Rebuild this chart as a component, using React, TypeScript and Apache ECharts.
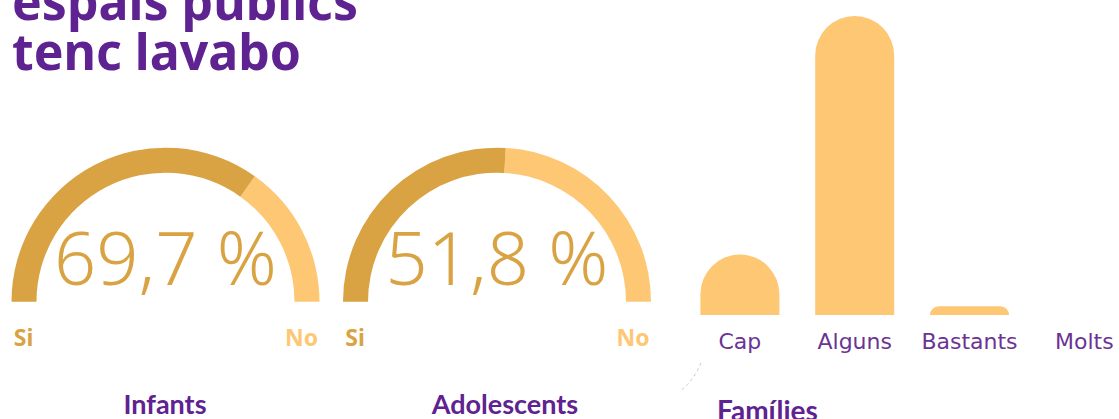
import React, { useEffect, useRef } from "react";
import * as echarts from "echarts";

const titleLines = ["espais públics", "tenc lavabo"];
const gaugeGroups = ["Infants", "Adolescents"];
const gaugeYes = [69.7, 51.8];
const gaugeYesLabel = "Si";
const gaugeNoLabel = "No";
const barGroup = "Famílies";
const barCategories = ["Cap", "Alguns", "Bastants", "Molts"];
const barValues = [16.4, 81.2, 2.4, 0];

const DARK = "#D9A343";
const LIGHT = "#FDC774";
const PURPLE = "#5E2390";
const LABEL_PURPLE = "#6A3494";
const SANS = '"Noto Sans", "DejaVu Sans", sans-serif';
const WIDE = '"DejaVu Sans", "Noto Sans", sans-serif';
const COND = 'Lato, "Noto Sans", sans-serif';

const gaugeCenters = [
  [165.5, 301.7],
  [497, 301.7],
];

export default function App() {
  const ref = useRef<HTMLDivElement>(null);
  useEffect(() => {
    if (!ref.current) return;
    const chart = echarts.init(ref.current, undefined, { renderer: "svg" });

    const gaugeSeries = gaugeYes.map((v, i) => ({
      type: "gauge",
      startAngle: 180,
      endAngle: 0,
      min: 0,
      max: 100,
      center: gaugeCenters[i],
      radius: 154,
      pointer: { show: false },
      progress: { show: false },
      axisTick: { show: false },
      splitLine: { show: false },
      axisLabel: { show: false },
      title: { show: false },
      axisLine: {
        lineStyle: {
          width: 25,
          color: [
            [v / 100, DARK],
            [1, LIGHT],
          ],
        },
      },
      detail: {
        offsetCenter: [0, -45],
        fontSize: 74,
        fontWeight: 300,
        fontFamily: SANS,
        color: DARK,
        formatter: (val: number) => val.toFixed(1).replace(".", ",") + " %",
      },
      data: [{ value: v, name: gaugeGroups[i] }],
    }));

    const graphics: any[] = [];
    titleLines.forEach((t, i) => {
      graphics.push({
        type: "text",
        x: 12,
        y: 1 + i * 50,
        style: {
          text: t,
          font: `bold 50px ${SANS}`,
          fill: PURPLE,
          verticalAlign: "middle",
          align: "left",
        },
      });
    });
    gaugeCenters.forEach((c, i) => {
      const left = c[0] - 154;
      const right = c[0] + 154;
      graphics.push({
        type: "text",
        x: left + 12,
        y: 337,
        style: { text: gaugeYesLabel, font: `bold 23px ${SANS}`, fill: DARK, align: "center", verticalAlign: "middle" },
      });
      graphics.push({
        type: "text",
        x: right - 18,
        y: 337,
        style: { text: gaugeNoLabel, font: `bold 23px ${SANS}`, fill: LIGHT, align: "center", verticalAlign: "middle" },
      });
      graphics.push({
        type: "text",
        x: i === 0 ? 165 : 505,
        y: 403,
        style: { text: gaugeGroups[i], font: `bold 27px ${COND}`, fill: PURPLE, align: "center", verticalAlign: "middle" },
      });
    });
    graphics.push({
      type: "text",
      x: 717,
      y: 410,
      style: { text: barGroup, font: `bold 28px ${COND}`, fill: PURPLE, align: "left", verticalAlign: "middle" },
    });
    graphics.push({
      type: "arc",
      shape: { cx: 640, cy: 340, r: 65, startAngle: 0.36, endAngle: 0.89 },
      style: { stroke: "#c8c8c8", lineWidth: 1, lineDash: [3, 3], fill: "none" },
    });

    chart.setOption({
      animation: false,
      grid: { left: 682.5, width: 459.2, top: 16, bottom: 104, containLabel: false },
      xAxis: {
        type: "category",
        data: barCategories,
        axisLine: { show: false },
        axisTick: { show: false },
        axisLabel: {
          margin: 15,
          fontSize: 22,
          fontFamily: WIDE,
          color: LABEL_PURPLE,
          interval: 0,
        },
      },
      yAxis: {
        type: "value",
        min: 0,
        max: "dataMax",
        show: false,
        splitLine: { show: false },
      },
      series: [
        ...gaugeSeries,
        {
          type: "bar",
          data: barValues,
          barWidth: 79,
          itemStyle: { color: LIGHT, borderRadius: [40, 40, 0, 0] },
        },
      ],
      graphic: graphics,
    });
    return () => chart.dispose();
  }, []);
  return (
    <div style={{ position: "fixed", left: 0, top: 0, width: 1119, height: 419, overflow: "hidden", background: "#fff" }}>
      <div ref={ref} style={{ width: 1160, height: 419 }} />
    </div>
  );
}
